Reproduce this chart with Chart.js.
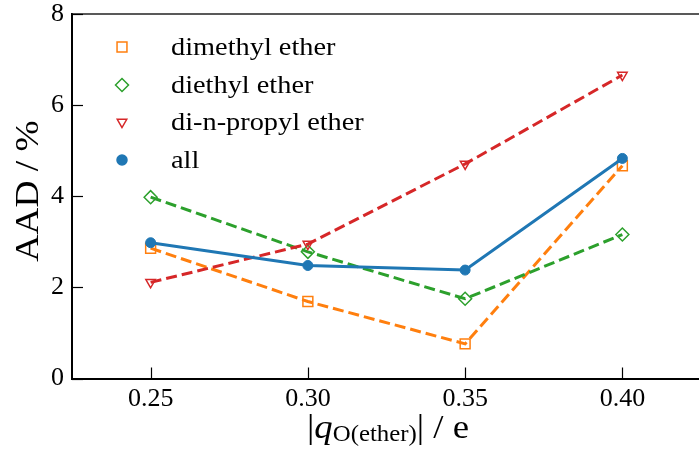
<!DOCTYPE html>
<html>
<head>
<meta charset="utf-8">
<script src="https://cdn.jsdelivr.net/npm/chart.js@4.4.1/dist/chart.umd.min.js"></script>
<style>
  html, body { margin: 0; padding: 0; background: #fff; overflow: hidden; }
  #wrap { position: relative; width: 701px; height: 450px; }
</style>
</head>
<body>
<div id="wrap"><canvas id="aadChart" width="701" height="450"></canvas></div>
<script>
// charge on the ether oxygen, |q| / e
const charges = [0.25, 0.30, 0.35, 0.40];

// AAD / % for each molecule and for all of them together
const dimethylEther = [2.86, 1.69, 0.76, 4.67];
const diethylEther = [3.98, 2.78, 1.75, 3.16];
const dipropylEther = [2.11, 2.95, 4.71, 6.66];
const allEthers = [2.98, 2.48, 2.38, 4.83];

const seriesNames = ['dimethyl ether', 'diethyl ether', 'di-n-propyl ether', 'all'];
const xTicks = [0.25, 0.30, 0.35, 0.40];
const yTicks = [0, 2, 4, 6, 8];

const FONT = '"Liberation Serif", "DejaVu Serif", serif';
const COLORS = {
    blue: '#1f77b4',
    orange: '#ff7f0e',
    green: '#2ca02c',
    red: '#d62728'
};

function toPoints(values) {
    return charges.map((x, i) => ({ x: x, y: values[i] }));
}

// legend entries, same order as the reference
const legendItems = [
    { label: seriesNames[0], color: COLORS.orange, style: 'rect', radius: 7, rotation: 0, fill: false },
    { label: seriesNames[1], color: COLORS.green, style: 'rectRot', radius: 6.5, rotation: 0, fill: false },
    { label: seriesNames[2], color: COLORS.red, style: 'triangle', radius: 5.5, rotation: 180, fill: false },
    { label: seriesNames[3], color: COLORS.blue, style: 'circle', radius: 5, rotation: 0, fill: true }
];

// text drawn a little wider, the reference font is broader than Times
function wideText(ctx, text, x, y, stretch) {
    ctx.save();
    ctx.translate(x, y);
    ctx.scale(stretch, 1);
    ctx.fillText(text, 0, 0);
    ctx.restore();
}

// spines, inward ticks, axis titles and legend
const decorPlugin = {
    id: 'decor',
    afterDraw(chart) {
        const ctx = chart.ctx;
        const area = chart.chartArea;
        const xs = chart.scales.x;
        const ys = chart.scales.y;

        ctx.save();

        // top spine
        ctx.strokeStyle = '#222';
        ctx.lineWidth = 1.5;
        ctx.beginPath();
        ctx.moveTo(area.left, area.top);
        ctx.lineTo(area.right + 2, area.top);
        ctx.stroke();

        // inward ticks
        ctx.strokeStyle = '#000';
        ctx.lineWidth = 1.2;
        xTicks.forEach(v => {
            const px = Math.round(xs.getPixelForValue(v)) + 0.5;
            ctx.beginPath();
            ctx.moveTo(px, area.bottom);
            ctx.lineTo(px, area.bottom - 11);
            ctx.stroke();
        });
        yTicks.forEach(v => {
            const py = Math.round(ys.getPixelForValue(v)) + 0.5;
            ctx.beginPath();
            ctx.moveTo(area.left, py);
            ctx.lineTo(area.left + 11, py);
            ctx.stroke();
        });

        // y title
        ctx.fillStyle = '#000';
        ctx.save();
        ctx.translate(29, 191);
        ctx.rotate(-Math.PI / 2);
        ctx.font = '34px ' + FONT;
        ctx.textAlign = 'center';
        ctx.textBaseline = 'middle';
        wideText(ctx, 'AAD / %', 0, 0, 1.1);
        ctx.restore();

        // x title: |q_O(ether)| / e
        const base = 438;
        const stretch = 1.08;
        const parts = [
            { t: '|', font: '34px ' + FONT, dy: 0 },
            { t: 'q', font: 'italic 34px ' + FONT, dy: 0 },
            { t: 'O(ether)', font: '23px ' + FONT, dy: 3 },
            { t: '|', font: '34px ' + FONT, dy: 0 },
            { t: ' / e', font: '34px ' + FONT, dy: 0 }
        ];
        let total = 0;
        parts.forEach(p => { ctx.font = p.font; p.w = ctx.measureText(p.t).width * stretch; total += p.w; });
        let cx = 388 - total / 2;
        ctx.textAlign = 'left';
        ctx.textBaseline = 'alphabetic';
        parts.forEach(p => {
            ctx.font = p.font;
            wideText(ctx, p.t, cx, base + p.dy, stretch);
            cx += p.w;
        });

        // legend
        const rowY = [47, 85, 122, 160];
        ctx.font = '26px ' + FONT;
        ctx.textBaseline = 'middle';
        legendItems.forEach((item, i) => {
            ctx.strokeStyle = item.color;
            ctx.fillStyle = item.fill ? item.color : 'rgba(0,0,0,0)';
            ctx.lineWidth = 1.5;
            Chart.helpers.drawPoint(ctx, {
                pointStyle: item.style,
                radius: item.radius,
                rotation: item.rotation,
                borderWidth: 1.5
            }, 122, rowY[i]);
            ctx.fillStyle = '#000';
            wideText(ctx, item.label, 171, rowY[i] + 1, 1.09);
        });

        ctx.restore();
    }
};

function dashedSeries(label, values, color, style, radius, rotation) {
    return {
        label: label,
        data: toPoints(values),
        borderColor: color,
        backgroundColor: 'rgba(0,0,0,0)',
        borderWidth: 3,
        borderDash: [11, 5],
        pointStyle: style,
        pointRadius: radius,
        pointRotation: rotation,
        pointBorderColor: color,
        pointBackgroundColor: 'rgba(0,0,0,0)',
        pointBorderWidth: 1.5,
        tension: 0,
        fill: false
    };
}

const ctx = document.getElementById('aadChart').getContext('2d');

new Chart(ctx, {
    type: 'line',
    data: {
        // first dataset is drawn on top
        datasets: [
            {
                label: seriesNames[3],
                data: toPoints(allEthers),
                borderColor: COLORS.blue,
                backgroundColor: COLORS.blue,
                borderWidth: 3,
                pointStyle: 'circle',
                pointRadius: 5,
                pointBackgroundColor: COLORS.blue,
                pointBorderColor: COLORS.blue,
                pointBorderWidth: 1,
                tension: 0,
                fill: false
            },
            dashedSeries(seriesNames[2], dipropylEther, COLORS.red, 'triangle', 5.5, 180),
            dashedSeries(seriesNames[1], diethylEther, COLORS.green, 'rectRot', 6.5, 0),
            dashedSeries(seriesNames[0], dimethylEther, COLORS.orange, 'rect', 7, 0)
        ]
    },
    options: {
        responsive: false,
        animation: false,
        devicePixelRatio: 1,
        layout: {
            autoPadding: false,
            padding: { top: 14, right: 0, bottom: 0, left: 0 }
        },
        scales: {
            x: {
                type: 'linear',
                min: 0.225,
                max: 0.425,
                afterBuildTicks: scale => { scale.ticks = xTicks.map(v => ({ value: v })); },
                afterFit: scale => {
                    scale.height = 71.5;
                    scale.paddingLeft = 0;
                    scale.paddingRight = 0;
                },
                ticks: {
                    callback: v => v.toFixed(2),
                    font: { family: FONT, size: 26 },
                    color: '#000',
                    padding: 5,
                    maxRotation: 0,
                    autoSkip: false
                },
                grid: { drawOnChartArea: false, drawTicks: false },
                border: { color: '#000', width: 2 }
            },
            y: {
                min: 0,
                max: 8,
                afterBuildTicks: scale => { scale.ticks = yTicks.map(v => ({ value: v })); },
                afterFit: scale => {
                    scale.width = 72;
                    scale.paddingTop = 0;
                    scale.paddingBottom = 0;
                },
                ticks: {
                    callback: v => String(v),
                    font: { family: FONT, size: 26 },
                    color: '#000',
                    padding: 8
                },
                grid: { drawOnChartArea: false, drawTicks: false },
                border: { color: '#000', width: 2 }
            }
        },
        plugins: {
            legend: { display: false },
            tooltip: { enabled: false }
        }
    },
    plugins: [decorPlugin]
});
</script>
</body>
</html>
